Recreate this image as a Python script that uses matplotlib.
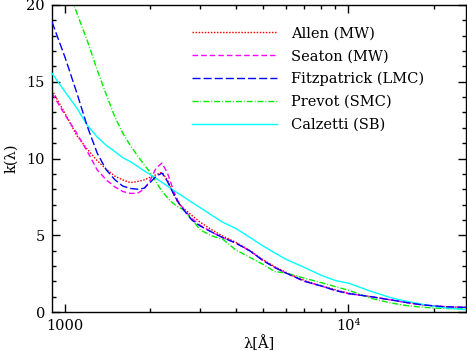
import matplotlib
matplotlib.use('Agg')
import matplotlib.pyplot as plt
from matplotlib.ticker import FixedLocator, NullFormatter, MultipleLocator

plt.rcParams['font.family'] = ['DejaVu Serif']

# wavelength grid (Angstrom)
wave = [900, 1000, 1100, 1200, 1300, 1400, 1500, 1600, 1700, 1800, 1900, 2000,
        2100, 2200, 2300, 2400, 2500, 2600, 2800, 3000, 3300, 3600, 4000, 4500,
        5000, 5500, 6000, 7000, 8000, 9000, 10000, 12000, 14000, 16000, 18000,
        20000, 22000, 26000]

allen = [14.45, 12.95, 11.5, 10.6, 9.85, 9.3, 8.85, 8.6, 8.43, 8.5, 8.6, 8.78,
         8.95, 9.1, 8.6, 7.8, 7.15, 6.8, 6.3, 5.85, 5.35, 4.95, 4.55, 4.0,
         3.4, 2.95, 2.6, 2.05, 1.72, 1.45, 1.22, 1.0, 0.8, 0.62, 0.48,
         0.4, 0.34, 0.3]
seaton = [14.25, 12.85, 11.65, 10.45, 9.25, 8.6, 8.15, 7.85, 7.73, 7.73, 8.0, 8.6,
          9.4, 9.7, 9.05, 8.05, 7.25, 6.8, 6.1, 5.65, 5.2, 4.85, 4.5, 3.97,
          3.35, 2.9, 2.55, 2.0, 1.7, 1.4, 1.2, 1.0, 0.8, 0.62, 0.48,
          0.4, 0.34, 0.3]
fitz = [18.9, 16.6, 14.3, 12.07, 10.34, 9.25, 8.62, 8.2, 8.05, 8.0, 8.06, 8.45,
        8.85, 9.05, 8.5, 7.8, 7.2, 6.75, 6.0, 5.6, 5.2, 4.85, 4.5, 3.97,
        3.35, 2.9, 2.55, 2.0, 1.7, 1.4, 1.2, 1.0, 0.8, 0.62, 0.48,
        0.4, 0.34, 0.3]
prevot = [23.5, 21.6, 19.5, 17.65, 15.75, 14.15, 12.7, 11.65, 10.85, 10.2, 9.6, 9.1,
          8.45, 7.85, 7.45, 7.1, 6.85, 6.7, 6.05, 5.35, 4.95, 4.75, 4.05, 3.55,
          3.1, 2.63, 2.55, 2.2, 1.92, 1.65, 1.42, 0.9, 0.6, 0.42, 0.32,
          0.26, 0.23, 0.2]
calz = [15.55, 14.35, 13.3, 12.15, 11.4, 10.85, 10.45, 10.05, 9.8, 9.5, 9.2, 8.95,
        8.7, 8.45, 8.2, 7.95, 7.75, 7.55, 7.15, 6.8, 6.3, 5.85, 5.45, 4.85,
        4.3, 3.85, 3.45, 2.9, 2.4, 2.05, 1.88, 1.35, 0.95, 0.7, 0.52,
        0.38, 0.27, 0.15]

fig = plt.figure(figsize=(4.67, 3.51), dpi=100)
ax = fig.add_axes([52 / 467, 1 - 312 / 351, 414 / 467, 307 / 351])

ax.plot(wave, allen, color='#ff0000', lw=1.0, dashes=(1.1, 1.1), label='Allen (MW)', zorder=2)
ax.plot(wave, seaton, color='#ff00ff', lw=1.0, dashes=(4, 2.2), label='Seaton (MW)', zorder=2)
ax.plot(wave, fitz, color='#0000ff', lw=1.0, dashes=(5.8, 2.2), label='Fitzpatrick (LMC)', zorder=5)
ax.plot(wave, prevot, color='#00ee00', lw=1.0, dashes=(4.3, 1.4, 0.7, 1.4), label='Prevot (SMC)', zorder=3)
ax.plot(wave, calz, color='#00ffff', lw=1.0, label='Calzetti (SB)', zorder=4)

ax.set_xscale('log')
ax.set_xlim(900, 26000)
ax.set_ylim(0, 20)

ax.xaxis.set_major_locator(FixedLocator([1000, 10000]))
ax.set_xticklabels(['1000', '10⁴'])
ax.xaxis.set_minor_locator(FixedLocator([2000, 3000, 4000, 5000, 6000, 7000, 8000, 9000, 20000]))
ax.xaxis.set_minor_formatter(NullFormatter())
ax.yaxis.set_major_locator(MultipleLocator(5))
ax.yaxis.set_minor_locator(MultipleLocator(1))

ax.tick_params(which='both', direction='in', top=True, right=True, labelsize=10.5, width=1)
ax.tick_params(which='major', length=6, pad=5)
ax.tick_params(which='minor', length=3)
for s in ax.spines.values():
    s.set_linewidth(1)

ax.set_xlabel('λ[Å]', fontsize=10.5, labelpad=2)
ax.set_ylabel('k(λ)', fontsize=10.5, labelpad=6)

ax.legend(loc='upper left', bbox_to_anchor=(0.338, 0.93), frameon=False,
          fontsize=10.5, handlelength=5.8, handletextpad=1.0, labelspacing=0.6,
          borderpad=0, borderaxespad=0)

fig.savefig('out.png', dpi=100)
